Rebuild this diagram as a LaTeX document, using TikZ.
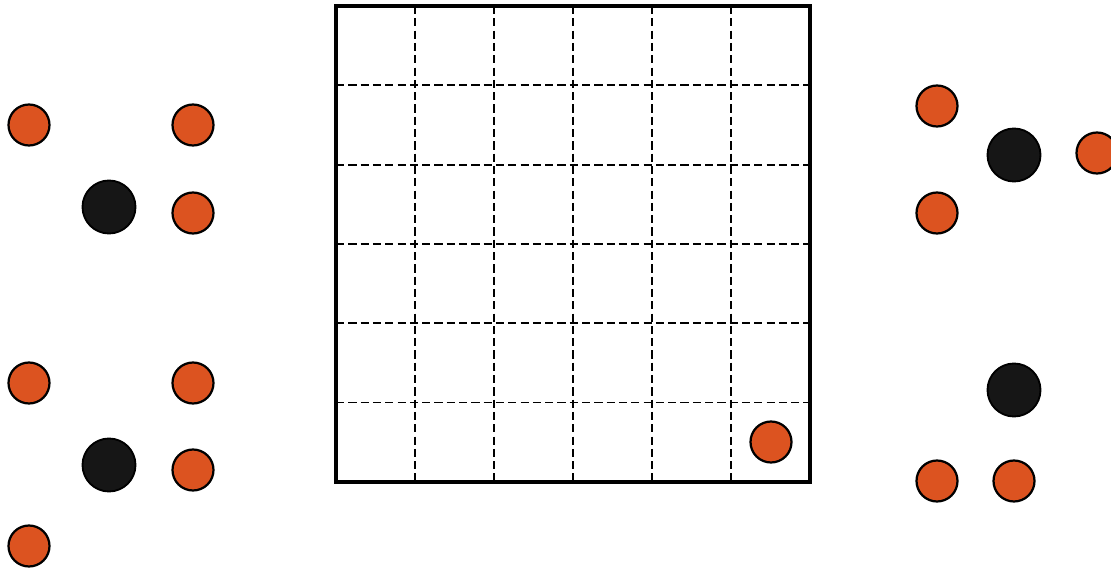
\documentclass[tikz,border=0pt]{standalone}
\usepackage{xcolor}
\definecolor{rust}{HTML}{DC5320}
\definecolor{ink}{HTML}{161616}
\usepackage{tikz}

\begin{document}
\begin{tikzpicture}[x=0.03cm, y=-0.03cm,
    particle/.style={circle, draw=black, line width=1.9pt, fill=rust,
                     minimum size=41*0.03cm, inner sep=0pt},
    hole/.style={circle, draw=black, line width=1.6pt, fill=ink,
                 minimum size=53*0.03cm, inner sep=0pt},
    gridline/.style={dash pattern=on 7pt off 3.5pt, line width=1.7pt}]
  \useasboundingbox (0,0) rectangle (1111,571);
  % lưới ô
  \foreach \i in {1,...,5}{
    \draw[gridline] (336+79*\i,6) -- (336+79*\i,482);
    \draw[gridline] (336,6+79.3*\i) -- (810,6+79.3*\i);
  }
  \draw[line width=3.8pt, line join=miter] (336,6) rectangle (810,482);
  \node[particle] (g1) at (771,442) {};
  % nhóm bên trái
  \node[particle] (a1) at (29,125) {};
  \node[particle] (a2) at (193,125) {};
  \node[hole]     (a3) at (109,207) {};
  \node[particle] (a4) at (193,213) {};
  \node[particle] (b1) at (29,383) {};
  \node[particle] (b2) at (193,383) {};
  \node[hole]     (b3) at (109,465) {};
  \node[particle] (b4) at (193,470) {};
  \node[particle] (b5) at (29,546) {};
  % nhóm bên phải
  \node[particle] (c1) at (937,106) {};
  \node[hole]     (c2) at (1014,155) {};
  \node[particle] (c3) at (1097,153) {};
  \node[particle] (c4) at (937,213) {};
  \node[hole]     (d1) at (1014,390) {};
  \node[particle] (d2) at (937,481) {};
  \node[particle] (d3) at (1014,481) {};
\end{tikzpicture}
\end{document}
